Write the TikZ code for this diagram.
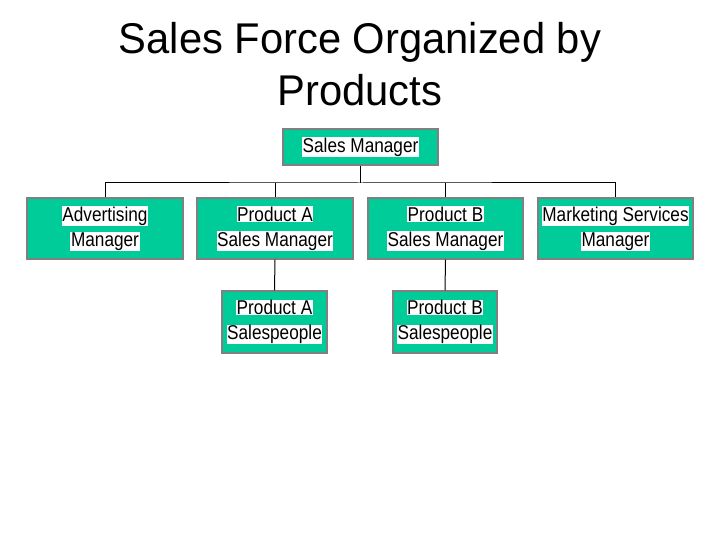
\documentclass[tikz,border=0pt]{standalone}
\usepackage{fontspec}
\usepackage{graphicx}
\setmainfont{Liberation Sans}
\definecolor{boxgreen}{RGB}{0,204,153}
\definecolor{boxedge}{RGB}{128,128,128}
\newcommand{\hlt}[1]{{\setlength{\fboxsep}{0.6pt}\colorbox{white}{\scalebox{0.86}[1]{#1}}}}
\begin{document}
\begin{tikzpicture}[x=1pt,y=-1pt,
  org/.style={draw=boxedge,line width=1.2pt,fill=boxgreen,minimum height=#1,align=center,inner sep=0pt,
    font=\fontsize{20}{25}\selectfont},
  link/.style={black,line width=1pt}]
\useasboundingbox (0,0) rectangle (720,540);
\node[font=\fontsize{43}{52}\selectfont,align=center] (title) at (360,64) {\scalebox{0.97}[1]{Sales Force Organized by}\\\scalebox{0.97}[1]{Products}};
\node[org=36pt,minimum width=155pt] (sm) at (360.5,147) {\hlt{Sales Manager}};
\node[org=61pt,minimum width=156pt] (adv) at (105,228.5) {\hlt{Advertising}\\\hlt{Manager}};
\node[org=61pt,minimum width=156pt] (pasm) at (275,228.5) {\hlt{Product A}\\\hlt{Sales Manager}};
\node[org=61pt,minimum width=155pt] (pbsm) at (445.5,228.5) {\hlt{Product B}\\\hlt{Sales Manager}};
\node[org=61pt,minimum width=155pt] (mkt) at (615.5,228.5) {\hlt{Marketing Services}\\\hlt{Manager}};
\node[org=62pt,minimum width=105pt] (pasp) at (274.5,322) {\hlt{Product A}\\\hlt{Salespeople}};
\node[org=62pt,minimum width=104pt] (pbsp) at (445,322) {\hlt{Product B}\\\hlt{Salespeople}};
\coordinate (bus) at (360.5,183);
\draw[link] (sm.south) -- (bus);
\draw[link] (adv.north) |- (bus) -| (mkt.north);
\draw[link] (pasm.north) -- (pasm.north |- bus);
\draw[link] (pbsm.north) -- (pbsm.north |- bus);
\draw[link] (pasm.south) -- (pasp.north);
\draw[link] (pbsm.south) -- (pbsp.north);
\end{tikzpicture}
\end{document}
